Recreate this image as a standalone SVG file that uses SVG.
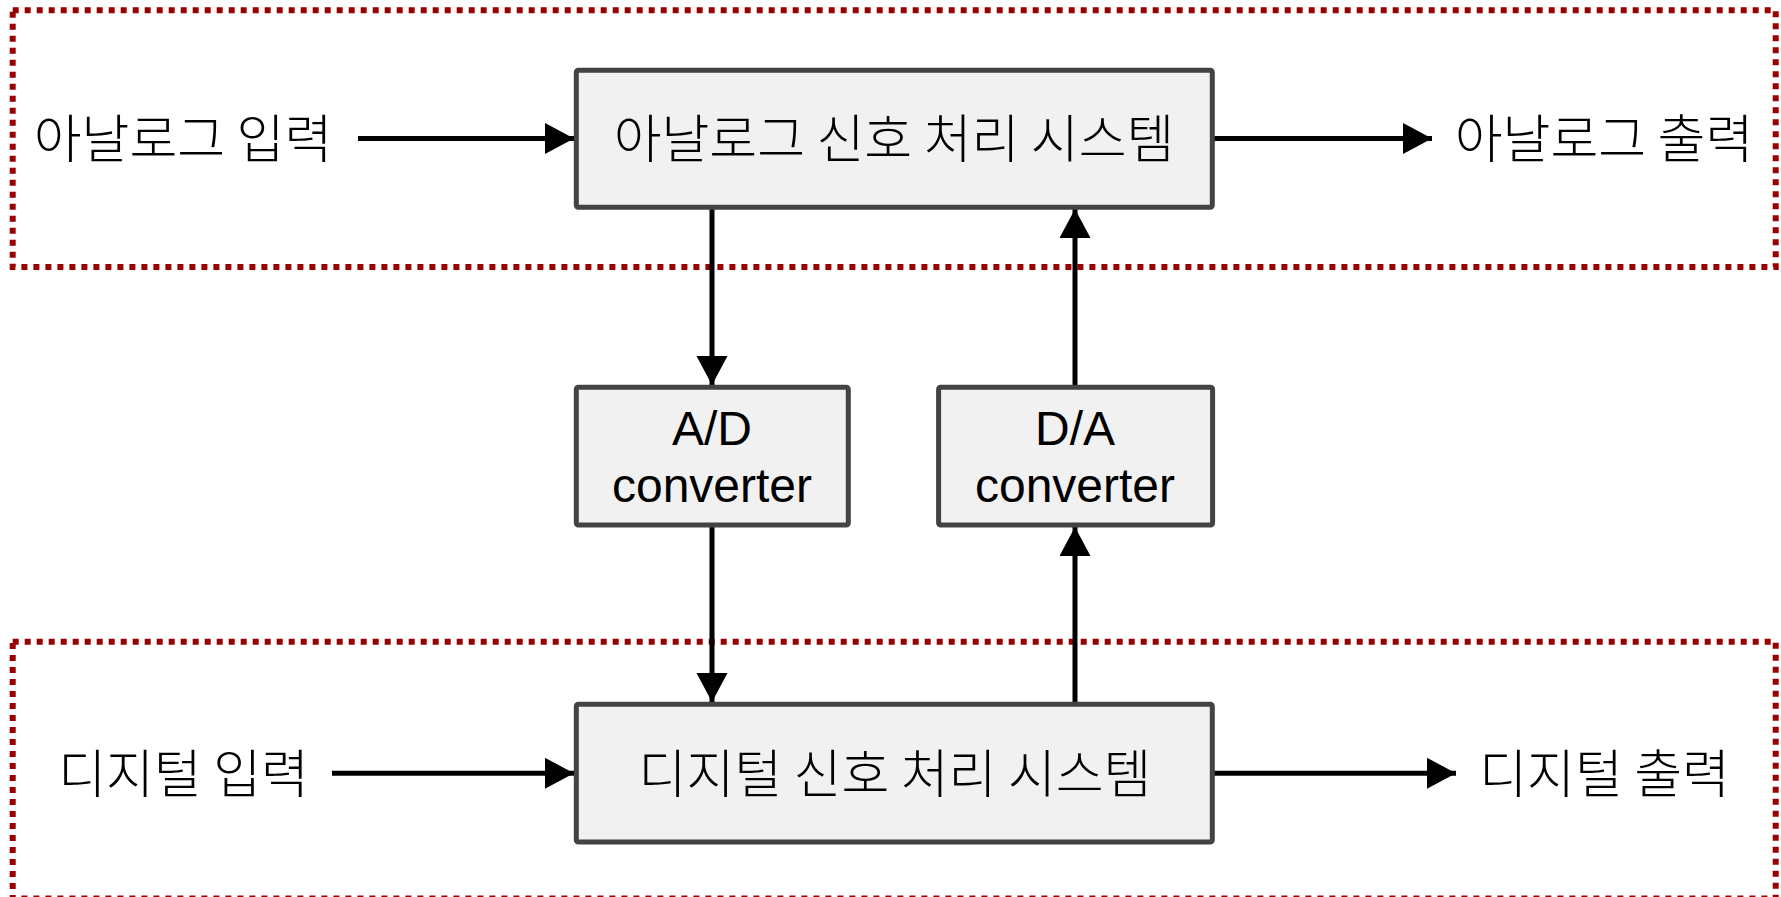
<svg xmlns="http://www.w3.org/2000/svg" width="1781" height="897" viewBox="0 0 1781 897">
  <style>
    .zone { fill: none; stroke: #990000; stroke-width: 6; stroke-dasharray: 6 6; }
    .box { fill: #f1f1f1; stroke: #434343; stroke-width: 5; }
    .kr { font-family: "Noto Sans CJK KR", "Noto Sans", sans-serif; font-size: 52px; font-weight: 300; fill: #000; text-anchor: middle; }
    .en { font-family: "Liberation Sans", Arial, sans-serif; font-size: 48px; fill: #000; text-anchor: middle; }
    .conn { fill: none; stroke: #000; stroke-width: 5; marker-end: url(#arrow); }
  </style>
  <defs>
    <marker id="arrow" markerUnits="userSpaceOnUse" markerWidth="30" markerHeight="32" refX="29" refY="15.5" orient="auto">
      <path d="M0,0 L29,15.5 L0,31 Z" fill="#000"/>
    </marker>
  </defs>
  <rect width="1781" height="897" fill="#fff"/>

  <g id="zone-analog">
    <rect class="zone" x="12.7" y="10.3" width="1763" height="256.7"/>
  </g>
  <g id="zone-digital">
    <rect class="zone" x="12.7" y="641.7" width="1763" height="256.7"/>
  </g>

  <g id="connectors">
    <line class="conn" x1="358" y1="138.5" x2="574" y2="138.5"/>
    <line class="conn" x1="1214" y1="138.5" x2="1432" y2="138.5"/>
    <line class="conn" x1="712" y1="209" x2="712" y2="385"/>
    <line class="conn" x1="1075" y1="385" x2="1075" y2="209"/>
    <line class="conn" x1="712" y1="527" x2="712" y2="702"/>
    <line class="conn" x1="1075" y1="702" x2="1075" y2="527"/>
    <line class="conn" x1="332" y1="773.3" x2="574" y2="773.3"/>
    <line class="conn" x1="1214" y1="773.3" x2="1456" y2="773.3"/>
  </g>

  <g id="analog-system">
    <rect class="box" x="576.3" y="70.3" width="636" height="137" rx="2"/>
    <text class="kr" x="894" y="157.5">아날로그 신호 처리 시스템</text>
  </g>
  <g id="ad-converter">
    <rect class="box" x="576.3" y="387.3" width="272" height="137.7" rx="2"/>
    <text class="en" x="712" y="445">A/D</text>
    <text class="en" x="712" y="501.7">converter</text>
  </g>
  <g id="da-converter">
    <rect class="box" x="938.6" y="387.3" width="274" height="137.7" rx="2"/>
    <text class="en" x="1075" y="445">D/A</text>
    <text class="en" x="1075" y="501.7">converter</text>
  </g>
  <g id="digital-system">
    <rect class="box" x="576.3" y="704.3" width="636" height="137.7" rx="2"/>
    <text class="kr" x="895" y="792.5">디지털 신호 처리 시스템</text>
  </g>

  <g id="analog-input"><text class="kr" x="183" y="157.5">아날로그 입력</text></g>
  <g id="analog-output"><text class="kr" x="1604" y="157.5">아날로그 출력</text></g>
  <g id="digital-input"><text class="kr" x="183.5" y="792.5">디지털 입력</text></g>
  <g id="digital-output"><text class="kr" x="1604.6" y="792.5">디지털 출력</text></g>
</svg>
